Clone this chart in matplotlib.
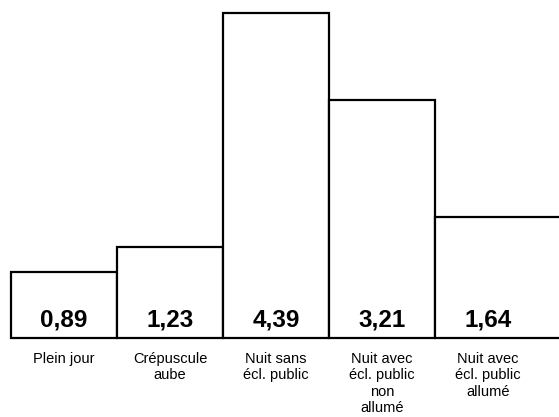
import matplotlib.pyplot as plt

# données : taux par condition d'éclairage
categories = ['Plein jour', 'Crépuscule\naube', 'Nuit sans\nécl. public',
              'Nuit avec\nécl. public\nnon\nallumé', 'Nuit avec\nécl. public\nallumé']
values = [0.89, 1.23, 4.39, 3.21, 1.64]
value_labels = ['0,89', '1,23', '4,39', '3,21', '1,64']
widths = [1, 1, 1, 1, 1.4]

plt.rcParams['font.family'] = ['Liberation Sans', 'DejaVu Sans']

fig = plt.figure(figsize=(5.59, 4.17), dpi=100)
ax = fig.add_axes([0, 0, 1, 1])

lefts = [sum(widths[:i]) for i in range(len(values))]
ax.bar(lefts, values, width=widths, align='edge', color='white',
       edgecolor='black', linewidth=1.6)

for i, (v, lab, cat) in enumerate(zip(values, value_labels, categories)):
    xc = i + 0.5
    ax.text(xc, 0.25, lab, ha='center', va='center', fontsize=17.5,
            fontweight='bold')
    ax.text(xc, -0.19, cat, ha='center', va='top', fontsize=10.5,
            linespacing=1.22)

ax.set_xlim(-11 / 106, 548 / 106)
ax.set_ylim(-79 / 74, 338 / 74)
ax.axis('off')

fig.savefig('out.png', dpi=100)
